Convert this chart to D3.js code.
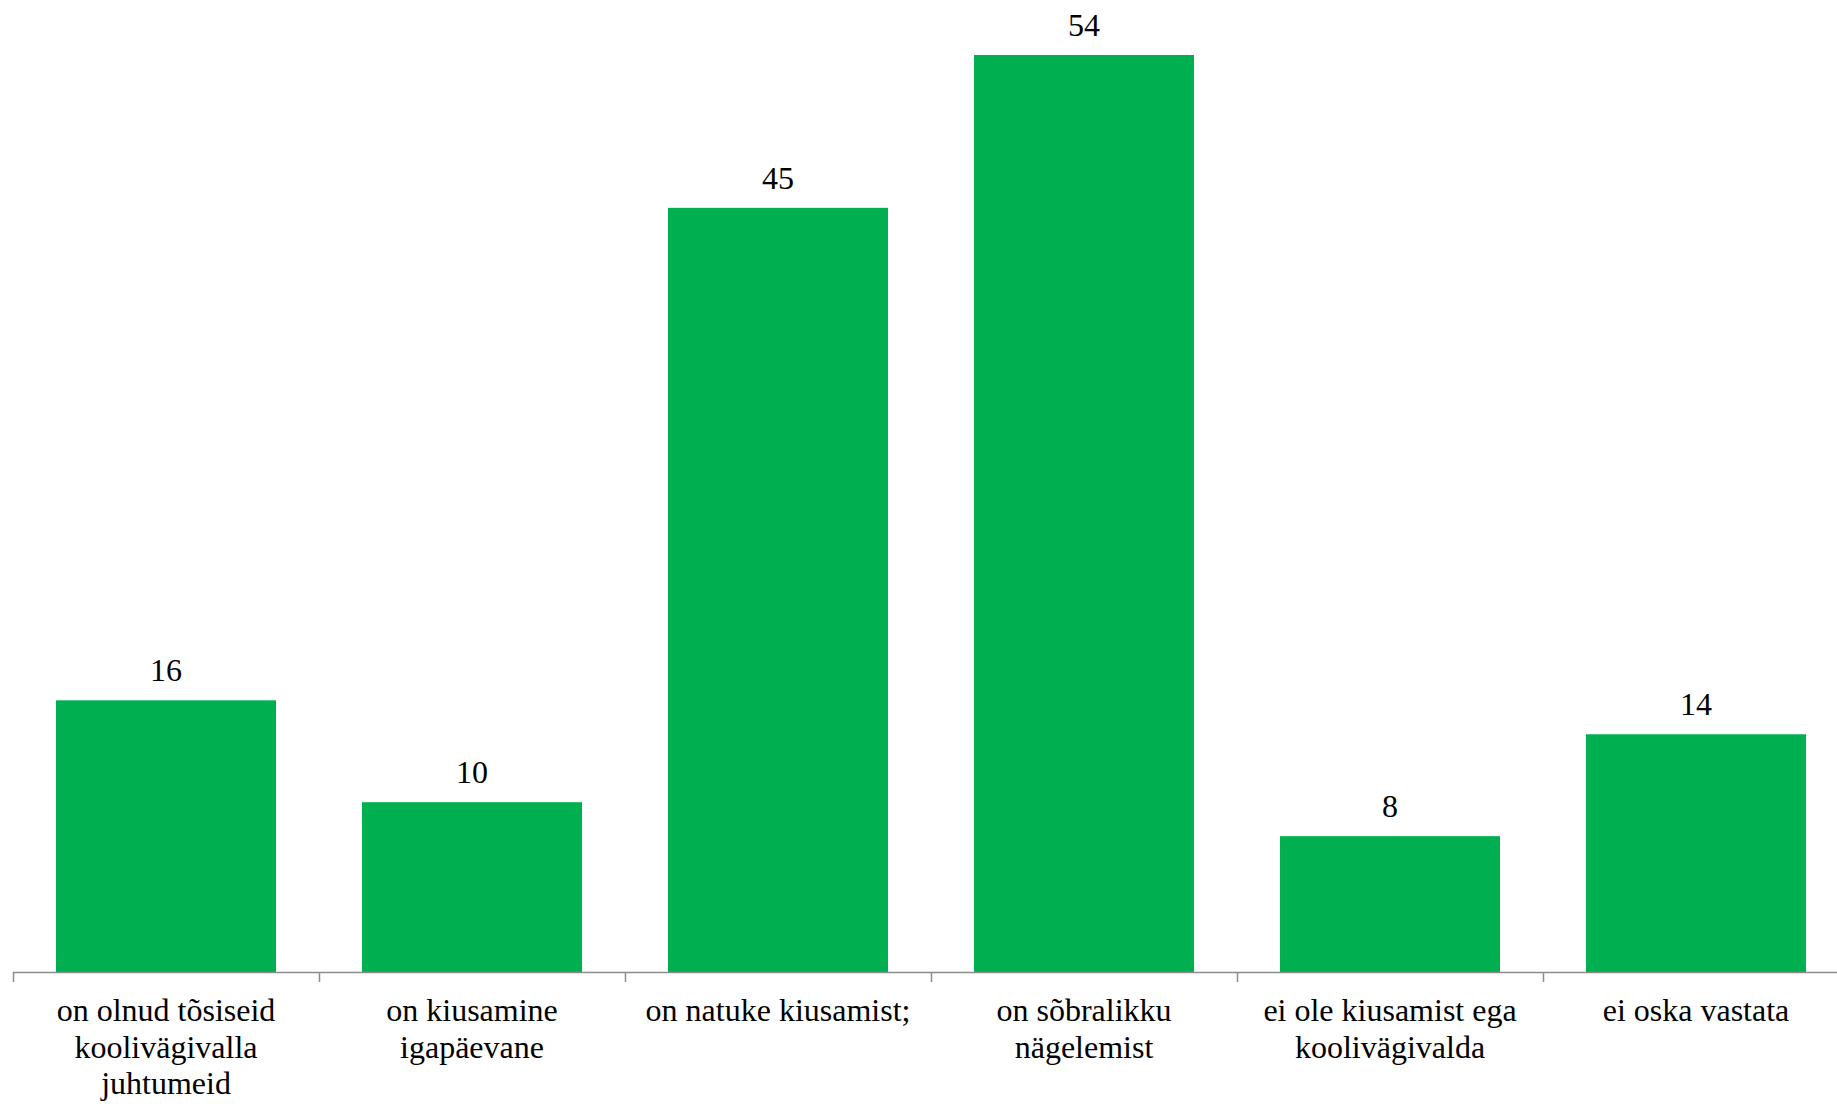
<!DOCTYPE html>
<html>
<head>
<meta charset="utf-8">
<script src="https://cdn.jsdelivr.net/npm/d3@7"></script>
<style>
  html, body { margin: 0; padding: 0; background: #fff; }
  svg { display: block; }
  svg text { font-family: "Liberation Serif"; }
</style>
</head>
<body>
<svg id="chart" width="1837" height="1104"></svg>
<script>
const categories = [
  ["on olnud tõsiseid", "koolivägivalla", "juhtumeid"],
  ["on kiusamine", "igapäevane"],
  ["on natuke kiusamist;"],
  ["on sõbralikku", "nägelemist"],
  ["ei ole kiusamist ega", "koolivägivalda"],
  ["ei oska vastata"]
];
const values = [16, 10, 45, 54, 8, 14];
const valueLabels = ["16", "10", "45", "54", "8", "14"];

const FONT = "Liberation Serif";
const svg = d3.select("#chart");
const W = 1837, H = 1104;
const axisY = 972;

const keys = categories.map((c, i) => i);
const x = d3.scaleBand()
  .domain(keys)
  .range([13, 1849])
  .paddingInner(0.281)
  .paddingOuter(0.1405);

const y = d3.scaleLinear().domain([0, 54]).range([axisY, 55]);

const step = x.step();

// bars
svg.append("g").selectAll("rect")
  .data(values)
  .join("rect")
  .attr("x", (d, i) => x(i))
  .attr("y", d => y(d))
  .attr("width", x.bandwidth())
  .attr("height", d => axisY - y(d))
  .attr("fill", "#00B050");

// axis line
svg.append("line")
  .attr("x1", 13).attr("x2", W)
  .attr("y1", axisY + 0.5).attr("y2", axisY + 0.5)
  .attr("stroke", "#8c8c8c").attr("stroke-width", 1.5);

// tick marks at category boundaries
const tickPos = d3.range(categories.length + 1).map(i => 13 + i * step);
svg.append("g").selectAll("line")
  .data(tickPos.filter(t => t <= W))
  .join("line")
  .attr("x1", d => Math.round(d) + 0.5).attr("x2", d => Math.round(d) + 0.5)
  .attr("y1", axisY).attr("y2", axisY + 10)
  .attr("stroke", "#8c8c8c").attr("stroke-width", 1.5);

// value labels
svg.append("g").selectAll("text")
  .data(values)
  .join("text")
  .attr("x", (d, i) => x(i) + x.bandwidth() / 2)
  .attr("y", d => y(d) - 19)
  .attr("text-anchor", "middle")
  .attr("font-family", FONT)
  .style("font-family", FONT)
  .attr("font-size", 32)
  .attr("fill", "#000")
  .text((d, i) => valueLabels[i]);

// category labels
const lab = svg.append("g").selectAll("text")
  .data(categories)
  .join("text")
  .attr("text-anchor", "middle")
  .attr("font-family", FONT)
  .style("font-family", FONT)
  .attr("font-size", 32)
  .attr("fill", "#000")
  .attr("transform", (d, i) => `translate(${x(i) + x.bandwidth() / 2},${axisY + 49})`);
lab.selectAll("tspan")
  .data(d => d)
  .join("tspan")
  .attr("x", 0)
  .attr("y", (d, j) => j * 36.7)
  .text(d => d);
</script>
</body>
</html>
